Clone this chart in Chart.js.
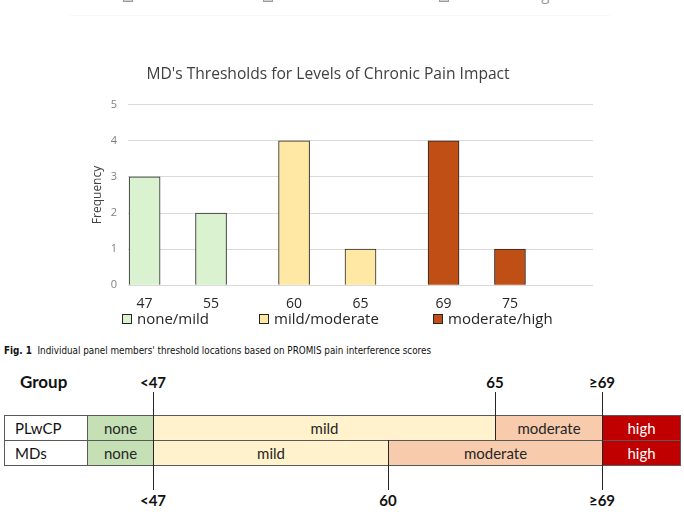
<!DOCTYPE html>
<html><head><meta charset="utf-8">
<script src="https://cdn.jsdelivr.net/npm/chart.js@4.4.1/dist/chart.umd.min.js"></script>
<style>
html,body{margin:0;padding:0;background:#fff;}
body{width:684px;height:514px;position:relative;overflow:hidden;font-family:'Open Sans',sans-serif;}
.abs{position:absolute;}
#chartBox{position:absolute;left:0;top:40px;width:684px;height:284px;}
.lg{position:absolute;font-size:15px;line-height:20px;white-space:nowrap;}
.sq{position:absolute;width:8px;height:8px;border:1px solid #262626;}
#caption{position:absolute;left:4px;top:345px;font-family:'Liberation Sans Narrow','DejaVu Sans Condensed',sans-serif;font-size:9.8px;line-height:12px;color:#111;white-space:nowrap;}
.sch{position:absolute;font-family:Lato,'Open Sans',sans-serif;white-space:nowrap;}
.cell{position:absolute;box-sizing:border-box;font-family:Lato,'Open Sans',sans-serif;font-size:15px;text-align:center;line-height:24px;}
.vl{position:absolute;width:1px;background:#262626;}
</style></head><body>
<div id="top"></div>
<div id="chartBox"><canvas id="c"></canvas></div>
<div id="legend"></div>
<div id="caption"><b>Fig. 1</b>&nbsp; Individual panel members' threshold locations based on PROMIS pain interference scores</div>
<div id="schema"></div>
<script>
// ---- chart data ----
const thresholds = ['47','55','60','65','69','75'];
const frequency = [3, 2, 4, 1, 4, 1];
const levelOf = [0, 0, 1, 1, 2, 2];
const levels = ['none/mild', 'mild/moderate', 'moderate/high'];
const levelColors = ['#daf2d0', '#ffe8a3', '#c04f15'];
const chartTitle = "MD's Thresholds for Levels of Chronic Pain Impact";
const yTicks = [0, 1, 2, 3, 4, 5];

// ---- schematic data ----
const schemaGroups = ['PLwCP', 'MDs'];
const bandNames = ['none', 'mild', 'moderate', 'high'];
const bandFill = ['#c5e0b4', '#fff2cc', '#f8cbad', '#c00000'];
const bandInk = ['#262626', '#262626', '#262626', '#ffffff'];
const plwcpCuts = ['<47', '65', '≥69'];
const mdCuts = ['<47', '60', '≥69'];

// slot layout: bars of a level sit together, a gap slot between levels
const slotCount = 28;
const pos = thresholds.map((t, i) => 1 + 4 * i + levelOf[i]);

const FONT = "'Open Sans', sans-serif";
const datasets = levels.map((name, l) => ({
  label: name,
  data: thresholds.map((t, i) => levelOf[i] === l ? {x: pos[i], y: frequency[i]} : null).filter(Boolean),
  backgroundColor: levelColors[l],
  borderColor: '#262626',
  borderWidth: 1,
  barThickness: 31,
  grouped: false
}));

new Chart(document.getElementById('c'), {
  type: 'bar',
  data: {datasets},
  options: {
    responsive: true, maintainAspectRatio: false, animation: false,
    layout: {padding: {left: 63, right: 91, top: 0, bottom: 2}},
    plugins: {
      legend: {display: false},
      tooltip: {enabled: false},
      title: {display: true, text: chartTitle, color: '#404040',
        font: {family: FONT, size: 15.6, weight: 'normal'}, padding: {top: 25, bottom: 21}}
    },
    scales: {
      x: {type: 'linear', min: 0, max: slotCount, offset: false,
        grid: {display: false, drawTicks: false}, border: {display: false},
        afterBuildTicks: (axis) => { axis.ticks = pos.map(v => ({value: v})); },
        ticks: {padding: 10, color: '#262626', autoSkip: false, maxRotation: 0,
          font: {family: FONT, size: 14},
          callback: (v, i) => thresholds[i]}
      },
      y: {min: 0, max: 5,
        afterBuildTicks: (axis) => { axis.ticks = yTicks.map(v => ({value: v})); },
        ticks: {padding: 11, color: '#7f7f7f', font: {family: FONT, size: 11}},
        grid: {color: '#d9d9d9', drawTicks: false}, border: {display: false},
        title: {display: true, text: 'Frequency', color: '#404040', font: {family: FONT, size: 12},
          padding: {top: 27, bottom: 0}},
        afterFit: (axis) => { axis.width = 65; }
      }
    }
  }
});

// ---- legends (HTML) ----
function legendRow(host, xs, top, boxTop, ink, boxInk, fills) {
  levels.forEach((name, l) => {
    const s = document.createElement('div');
    s.className = 'sq';
    s.style.left = xs[l] + 'px'; s.style.top = boxTop + 'px';
    s.style.background = fills[l]; s.style.borderColor = boxInk;
    host.appendChild(s);
    const t = document.createElement('div');
    t.className = 'lg'; t.textContent = name;
    t.style.left = (xs[l] + 15) + 'px'; t.style.top = top + 'px'; t.style.color = ink;
    host.appendChild(t);
  });
}
legendRow(document.getElementById('legend'), [122, 259, 433], 308, 314, '#262626', '#262626', levelColors);
legendRow(document.getElementById('top'), [123, 263, 439], -16.5, -8, '#9a9a9a', '#9a9a9a', ['#d0d0d0','#d0d0d0','#d0d0d0']);
const faint = document.createElement('div');
faint.className = 'abs';
Object.assign(faint.style, {left: '70px', top: '15px', width: '540px', height: '1px', background: '#f8f8f8'});
document.getElementById('top').appendChild(faint);

// ---- schematic ----
const sch = document.getElementById('schema');
const cutPx = {'<47': 153, '60': 388, '65': 495, '≥69': 602};
const T = {left: 4, label: 87, right: 680, top: 415, row: 25};
function add(cls, css, text) {
  const d = document.createElement('div');
  d.className = cls; Object.assign(d.style, css);
  if (text !== undefined) d.textContent = text;
  sch.appendChild(d); return d;
}
add('sch', {left: '20px', top: '371px', fontSize: '17px', fontWeight: 'bold', color: '#111', lineHeight: '22px'}, 'Group');
schemaGroups.forEach((g, r) => {
  const cuts = r === 0 ? plwcpCuts : mdCuts;
  const y = T.top + r * T.row;
  add('cell', {left: T.left + 'px', top: y + 'px', width: (T.label - T.left + 1) + 'px', height: (T.row + 1) + 'px',
    background: '#fff', border: '1px solid #595959', textAlign: 'left', paddingLeft: '10px', color: '#111'}, g);
  const edges = [T.label, ...cuts.map(c => cutPx[c]), T.right];
  bandNames.forEach((b, k) => {
    add('cell', {left: edges[k] + 'px', top: y + 'px', width: (edges[k + 1] - edges[k] + 1) + 'px', height: (T.row + 1) + 'px',
      background: bandFill[k], color: bandInk[k], border: '1px solid #595959'}, b);
  });
});
// threshold ticks and labels
plwcpCuts.forEach(c => {
  add('vl', {left: cutPx[c] + 'px', top: '392px', height: (T.top + T.row - 392) + 'px'});
  add('sch', {left: (cutPx[c] - 30) + 'px', width: '60px', textAlign: 'center', top: '371px', fontSize: '15px',
    fontWeight: 'bold', color: '#111', lineHeight: '22px'}, c);
});
mdCuts.forEach(c => {
  add('vl', {left: cutPx[c] + 'px', top: (T.top + T.row) + 'px', height: (490 - T.top - T.row) + 'px'});
  add('sch', {left: (cutPx[c] - 30) + 'px', width: '60px', textAlign: 'center', top: '489px', fontSize: '15px',
    fontWeight: 'bold', color: '#111', lineHeight: '22px'}, c);
});
</script>
</body></html>
